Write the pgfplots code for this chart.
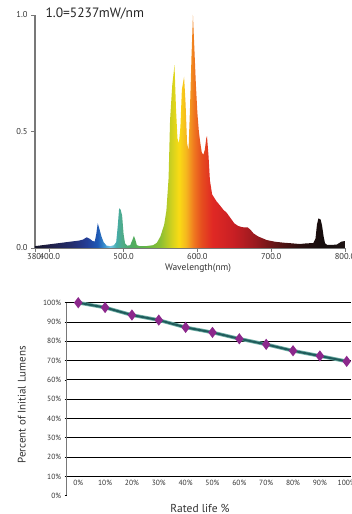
\documentclass[border=0pt]{standalone}
\usepackage{pgfplots}
\pgfplotsset{compat=1.18}
\usepackage{fontspec}
\setmainfont{PT Sans}
\definecolor{lineteal}{RGB}{32,92,92}
\definecolor{lineedge}{RGB}{110,175,165}
\definecolor{dia}{RGB}{140,40,140}
\definecolor{axgray}{RGB}{120,120,120}
% spectrum shading: 380nm -> 25bp, 800nm -> 75bp
\pgfdeclarehorizontalshading{spectrum}{100bp}{
rgb(0bp)=(0.08,0.08,0.16);
rgb(25bp)=(0.08,0.08,0.16);
rgb(27.38bp)=(0.12,0.12,0.28);
rgb(30.95bp)=(0.14,0.18,0.43);
rgb(33.33bp)=(0.14,0.24,0.59);
rgb(35.12bp)=(0.12,0.35,0.71);
rgb(36.31bp)=(0.24,0.59,0.82);
rgb(37.14bp)=(0.47,0.78,0.90);
rgb(38.10bp)=(0.27,0.67,0.67);
rgb(38.93bp)=(0.31,0.67,0.55);
rgb(40.48bp)=(0.31,0.67,0.39);
rgb(42.86bp)=(0.39,0.71,0.27);
rgb(45.24bp)=(0.55,0.75,0.20);
rgb(47.02bp)=(0.82,0.82,0.12);
rgb(48.21bp)=(0.98,0.86,0.08);
rgb(49.40bp)=(0.96,0.71,0.12);
rgb(50.60bp)=(0.94,0.47,0.12);
rgb(51.79bp)=(0.90,0.31,0.12);
rgb(53.57bp)=(0.88,0.16,0.14);
rgb(57.14bp)=(0.78,0.12,0.14);
rgb(60.71bp)=(0.59,0.10,0.12);
rgb(64.29bp)=(0.35,0.08,0.08);
rgb(67.86bp)=(0.16,0.06,0.06);
rgb(71.43bp)=(0.08,0.05,0.05);
rgb(75bp)=(0.12,0.08,0.08);
rgb(100bp)=(0.12,0.08,0.08)}
\pgfplotstableread{
nm val
380 0.008
390 0.012
400 0.016
410 0.020
420 0.024
430 0.028
440 0.032
445 0.036
450 0.046
454 0.040
458 0.030
461 0.028
463 0.060
465 0.106
467 0.085
470 0.050
473 0.025
477 0.010
482 0.008
487 0.012
490 0.025
492 0.090
494 0.170
496 0.165
498 0.140
500 0.060
502 0.020
505 0.010
509 0.012
512 0.035
514 0.052
516 0.035
518 0.012
522 0.008
530 0.008
540 0.012
545 0.022
550 0.050
555 0.100
558 0.160
561 0.300
563 0.550
566 0.700
569 0.785
571 0.600
573 0.470
575 0.450
577 0.520
579 0.680
582 0.735
584 0.620
586 0.450
588 0.420
590 0.600
592 0.820
594 1.000
596 0.850
598 0.700
600 0.580
602 0.500
604 0.450
606 0.410
608 0.400
610 0.420
612 0.470
613 0.480
615 0.400
617 0.290
620 0.230
626 0.200
630 0.185
635 0.165
640 0.150
645 0.128
650 0.106
655 0.095
660 0.090
664 0.088
668 0.089
672 0.078
676 0.063
682 0.050
688 0.042
694 0.034
705 0.027
716 0.023
728 0.020
739 0.017
748 0.020
757 0.021
760 0.040
762 0.100
764 0.127
767 0.122
769 0.095
771 0.050
773 0.020
776 0.013
782 0.013
789 0.015
795 0.027
800 0.030
}\spectrum
\pgfplotstableread{
x y
0 100
1 97.5
2 93.6
3 91.0
4 87.2
5 84.6
6 81.3
7 78.4
8 75.1
9 72.4
10 69.6
}\lumens
\begin{document}
\begin{tikzpicture}
\useasboundingbox (0pt,0pt) rectangle (351pt,514pt);
% ---------- spectrum ----------
\begin{axis}[
  at={(35pt,266pt)}, anchor=south west, scale only axis,
  width=310pt, height=233pt,
  xmin=380, xmax=800, ymin=0, ymax=1,
  axis x line*=bottom, axis y line*=left,
  axis line style={axgray, line width=1.2pt},
  tick style={axgray, line width=0.8pt},
  tick align=outside, major tick length=4pt,
  xtick={380,400,500,600,700,800},
  xticklabels={380.,400.0,500.0,600.0,700.0,800.0},
  ytick={0,0.5,1},
  yticklabels={0.0,0.5,1.0},
  ticklabel style={font=\fontsize{8.5}{9}\selectfont, text=black!80},
  xticklabel style={inner sep=1pt},
  xlabel={Wavelength(nm)},
  xlabel style={at={(axis description cs:0.526,-0.088)}, anchor=center, font=\fontsize{9.5}{11}\selectfont, text=black!80},
  clip=false,
]
\addplot[draw=none, shade, shading=spectrum] table[x=nm, y=val] {\spectrum} \closedcycle;
\end{axis}
\node[anchor=west, font=\fontsize{13.5}{15}\selectfont, text=black!85] at (42pt,500pt) {1.0=5237mW/nm};
% ---------- lumen maintenance ----------
\begin{axis}[
  at={(66.7pt,18.3pt)}, anchor=south west, scale only axis,
  width=284.3pt, height=193pt,
  xmin=-0.43, xmax=10.16, ymin=0, ymax=100,
  axis x line*=bottom, axis y line*=left,
  axis x line shift=-19.3pt,
  x axis line style={black, line width=0.8pt},
  y axis line style={axgray, line width=1pt},
  xtick={0,...,10},
  xticklabels={0\%,10\%,20\%,30\%,40\%,50\%,60\%,70\%,80\%,90\%,100\%},
  xtick style={draw=none},
  minor xtick={0.5,1.5,...,9.5},
  minor x tick style={black, line width=0.6pt},
  minor tick length=2.5pt,
  xtick align=inside,
  ytick={10,20,...,100},
  yticklabels={10\%,20\%,30\%,40\%,50\%,60\%,70\%,80\%,90\%,100\%},
  extra y ticks={0}, extra y tick labels={0\%},
  extra y tick style={grid=none},
  ytick align=outside, major tick length=2pt,
  ytick style={black, line width=0.6pt},
  ymajorgrids, grid style={black, line width=0.8pt},
  ticklabel style={font=\fontsize{7.5}{9}\selectfont, text=black!80},
  xlabel={Rated life \%},
  xlabel style={at={(axis description cs:0.469,-0.064)}, anchor=center, font=\fontsize{11.5}{13}\selectfont, text=black!80},
  ylabel={Percent of Initial Lumens},
  ylabel style={at={(axis description cs:-0.158,0.47)}, anchor=center, rotate=0, font=\fontsize{11}{13}\selectfont, text=black!80},
  clip=false,
]
\addplot[lineedge, line width=3.6pt] table[x=x,y=y] {\lumens};
\addplot[lineteal, line width=2pt, mark=diamond*, mark size=4pt, mark options={fill=dia, draw=dia}] table[x=x,y=y] {\lumens};
\end{axis}
\end{tikzpicture}
\end{document}
